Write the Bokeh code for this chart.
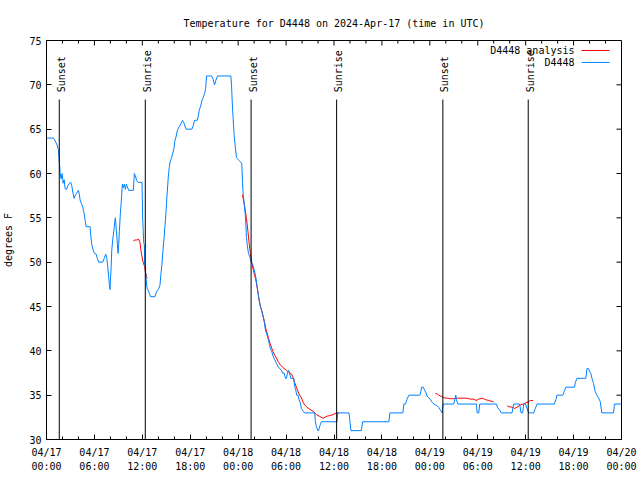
import math
from bokeh.plotting import figure
from bokeh.models import FixedTicker, LinearAxis, Label, Range1d
from bokeh.core.properties import value
from bokeh.embed import file_html
from bokeh.resources import INLINE

# ---------------- data ----------------
title_text = "Temperature for D4448 on 2024-Apr-17 (time in UTC)"
y_label_text = "degrees F"

# hours since 2024-04-17 00:00 UTC
x_tick_hours = [0, 6, 12, 18, 24, 30, 36, 42, 48, 54, 60, 66, 72]
x_tick_dates = ["04/17", "04/17", "04/17", "04/17", "04/18", "04/18", "04/18", "04/18",
                "04/19", "04/19", "04/19", "04/19", "04/20"]
x_tick_times = ["00:00", "06:00", "12:00", "18:00", "00:00", "06:00", "12:00", "18:00",
                "00:00", "06:00", "12:00", "18:00", "00:00"]
y_ticks = [30, 35, 40, 45, 50, 55, 60, 65, 70, 75]

sun_names = ["Sunset", "Sunrise", "Sunset", "Sunrise", "Sunset", "Sunrise"]
sun_hours = [1.6, 12.37, 25.62, 36.33, 49.63, 60.32]

series_obs = "D4448"
obs_hours = [0.0, 0.875, 1.08, 1.375, 1.5, 1.58, 1.67, 1.71, 1.83, 1.96, 2.08, 2.21, 2.33, 2.5,
             2.67, 2.875, 3.04, 3.17, 3.29, 3.46, 3.625, 3.79, 4.0, 4.125, 4.21, 4.375, 4.54,
             4.67, 4.79, 4.875, 4.96, 5.46, 5.54, 5.67, 5.83, 6.0, 6.21, 6.375, 6.54, 7.04,
             7.21, 7.42, 7.54, 7.67, 7.79, 7.875, 7.96, 8.0, 8.08, 8.17, 8.29, 8.42, 8.54,
             8.625, 8.75, 8.875, 8.96, 9.04, 9.125, 9.25, 9.375, 9.5, 9.625, 9.75, 9.875,
             10.0, 10.125, 10.29, 10.875, 11.0, 11.17, 11.29, 11.5, 11.96, 12.04, 12.17,
             12.25, 12.29, 12.375, 12.46, 12.58, 12.75, 12.875, 13.04, 13.58, 13.71, 13.875,
             14.04, 14.21, 14.33, 14.46, 14.58, 14.71, 14.83, 14.96, 15.08, 15.25, 15.375,
             15.5, 15.67, 15.79, 15.96, 16.08, 16.21, 16.375, 16.5, 16.71, 16.92, 17.04,
             17.21, 17.46, 18.21, 18.375, 18.54, 18.875, 19.0, 19.125, 19.29, 19.46, 19.625,
             19.79, 19.92, 20.04, 20.67, 20.875, 21.04, 21.21, 21.42, 23.08, 23.17, 23.25,
             23.375, 23.5, 23.625, 23.79, 24.0, 24.125, 24.29, 24.46, 24.54, 24.625, 24.75,
             24.875, 24.96, 25.04, 25.17, 25.29, 25.46, 25.625, 25.79, 25.96, 26.125, 26.25,
             26.375, 26.5, 26.625, 26.79, 26.92, 27.04, 27.17, 27.29, 27.42, 27.54, 27.67,
             27.79, 27.92, 28.04, 28.21, 28.375, 28.58, 28.79, 29.0, 29.42, 29.54, 29.75,
             29.92, 30.04, 30.17, 30.33, 30.46, 30.58, 30.96, 31.08, 31.21, 31.33, 31.5,
             31.625, 31.79, 31.92, 32.125, 32.33, 33.58, 33.67, 33.79, 33.96, 34.08, 34.21,
             34.42, 36.375, 36.46, 37.875, 38.0, 38.125, 39.42, 39.58, 42.875, 43.0, 44.625,
             44.75, 44.96, 45.125, 45.375, 46.75, 46.875, 46.96, 47.17, 47.33, 47.5, 47.67,
             47.875, 48.08, 48.29, 48.5, 48.71, 48.92, 49.125, 49.33, 49.54, 49.67, 51.0,
             51.125, 51.25, 51.33, 51.5, 53.83, 53.92, 54.125, 54.25, 56.33, 56.5, 56.75,
             56.96, 58.29, 58.5, 59.25, 59.42, 59.625, 59.75, 59.96, 60.17, 60.375, 61.0,
             61.21, 61.42, 63.58, 63.79, 63.92, 64.67, 64.83, 65.04, 66.125, 66.21, 66.42,
             67.54, 67.67, 67.875, 68.0, 68.17, 68.33, 68.5, 68.71, 68.92, 69.125, 69.33,
             69.54, 71.0, 71.125, 72.0]
obs_temps = [64.0, 64.0, 63.7, 63.1, 62.6, 61.5, 60.7, 60.0, 59.4, 60.0, 58.9, 59.3, 58.3, 58.2,
             58.6, 58.9, 59.0, 58.6, 57.9, 57.2, 57.6, 57.8, 58.1, 57.6, 57.0, 56.6, 56.2,
             55.7, 55.0, 54.5, 54.0, 54.0, 53.0, 52.0, 51.4, 51.0, 50.9, 50.4, 50.0, 50.0,
             50.4, 50.9, 50.5, 49.5, 48.3, 47.4, 46.9, 48.0, 49.1, 51.3, 52.5, 53.4, 54.5,
             55.0, 53.6, 52.1, 51.0, 52.0, 53.5, 55.5, 57.0, 58.8, 58.4, 58.8, 58.2,
             58.8, 58.5, 58.1, 58.1, 60.0, 59.6, 59.2, 59.0, 59.0, 55.1, 52.2,
             52.0, 49.7, 49.5, 48.3, 47.1, 46.8, 46.5, 46.1, 46.1, 46.5, 46.8,
             47.0, 47.4, 48.7, 49.8, 51.3, 52.6, 54.0, 55.6, 57.4, 59.6, 60.7,
             61.4, 61.8, 62.2, 62.8, 63.7, 64.1, 64.8, 65.1, 65.4, 65.8, 66.0,
             65.7, 65.0, 65.0, 65.4, 66.0, 66.0, 66.5, 67.1, 67.6, 68.2, 68.6,
             69.0, 69.5, 71.0, 71.0, 70.6, 70.0, 70.5, 71.0, 71.0, 70.0, 68.2,
             66.1, 64.3, 63.1, 61.8, 61.6, 61.45, 61.3, 61.1, 59.0, 57.7, 56.6,
             55.5, 54.3, 52.8, 51.7, 51.0, 50.6, 50.0, 49.8, 49.3, 48.7, 48.1,
             47.2, 46.5, 45.7, 45.0, 44.6, 44.2, 43.7, 43.1, 42.3, 42.0, 41.6,
             41.2, 40.7, 40.3, 39.9, 39.4, 39.0, 38.6, 38.2, 37.8, 37.5, 37.5,
             36.9, 36.9, 37.5, 37.8, 37.4, 36.9, 36.9, 36.0, 35.6, 35.0, 35.0,
             34.5, 34.1, 33.5, 33.2, 33.0, 33.0, 32.0, 31.5, 31.0, 31.0, 31.5,
             32.0, 32.0, 33.0, 33.0, 32.0, 31.0, 31.0, 32.0, 32.0, 33.0, 33.0,
             34.0, 34.0, 34.5, 35.0, 35.0, 35.4, 35.9, 35.9, 35.6, 35.3, 34.9,
             34.7, 34.5, 34.2, 34.0, 33.9, 33.8, 33.6, 33.3, 33.0, 34.0, 34.0,
             34.5, 35.0, 34.5, 34.0, 34.0, 33.0, 33.0, 34.0, 34.0, 33.6, 33.3,
             33.0, 33.0, 34.0, 34.0, 33.0, 33.0, 34.0, 34.0, 33.5, 33.0, 33.0,
             33.5, 34.0, 34.0, 34.5, 35.0, 35.0, 35.4, 35.9, 35.9, 36.4, 36.9,
             36.9, 38.0, 38.0, 37.7, 37.4, 36.8, 36.3, 35.4, 35.0, 34.7, 34.3,
             33.0, 33.0, 34.0, 34.0]

series_ana = "D4448 analysis"
nan = float("nan")
ana_hours = [10.875, 11.08, 11.29, 11.54, 11.71, 11.79, 11.92, 12.04, 12.17, 12.29, 12.375, 12.54, 12.67,
             nan,
             24.54, 24.83, 25.04, 25.21, 25.375, 25.54, 25.71, 25.875, 26.04, 26.21, 26.375, 26.5,
             26.625, 26.79, 26.96, 27.125, 27.29, 27.46, 27.625, 27.79, 27.96, 28.17, 28.375,
             28.58, 28.79, 29.0, 29.21, 29.42, 29.625, 30.04, 30.46, 30.67, 30.875, 31.08, 31.29,
             31.5, 31.71, 31.92, 32.125, 32.33, 32.54, 32.96, 33.375, 33.79, 34.21, 34.625,
             35.04, 35.46, 35.875, 36.29, 36.58,
             nan,
             48.71, 48.92, 49.125, 49.33, 49.54, 49.75, 50.17, 50.58, 51.0, 51.42, 52.67, 53.08,
             53.5, 53.79, 54.125, 54.54, 54.96, 55.375, 55.79, 56.0,
             nan,
             57.67, 57.875, 58.29, 58.625, 58.92, 59.33, 59.75, 60.17, 60.375, 60.58, 60.92]
ana_temps = [52.4, 52.5, 52.5, 52.6, 52.2, 51.5, 50.8, 50.2, 49.8, 49.5, 48.9, 48.3, 48.2,
             nan,
             57.6, 56.2, 54.9, 53.6, 52.15, 51.0, 49.9, 49.2, 48.6, 48.0, 47.2, 46.5,
             45.7, 45.0, 44.5, 43.9, 43.3, 42.5, 42.0, 41.5, 40.9, 40.4, 39.9,
             39.5, 39.2, 38.8, 38.5, 38.3, 38.1, 37.8, 37.5, 37.4, 37.0, 36.4, 35.9,
             35.4, 35.0, 34.7, 34.2, 33.9, 33.7, 33.4, 33.2, 32.8, 32.6, 32.4,
             32.6, 32.7, 32.8, 33.0, 33.0,
             nan,
             35.2, 35.15, 35.0, 34.9, 34.85, 34.7, 34.66, 34.6, 34.6, 34.66, 34.66, 34.55,
             34.55, 34.4, 34.55, 34.66, 34.5, 34.4, 34.3, 34.25,
             nan,
             33.8, 33.7, 33.65, 33.5, 33.65, 33.9, 34.0, 34.2, 34.25, 34.4, 34.4]

# ---------------- layout ----------------
FONT = "DejaVu Sans Mono"
FS = "10px"
W, H = 638, 474
ML, MR, MT, MB = 46, 17, 40, 34
X0, X1 = x_tick_hours[0], x_tick_hours[-1]
Y0, Y1 = y_ticks[0], y_ticks[-1]
FW, FH = W - ML - MR, H - MT - MB
px_x = FW / (X1 - X0)
px_y = FH / (Y1 - Y0)

def dx_from_right(px):
    return X1 - px / px_x

def dy_from_top(px):
    return Y1 - px / px_y

BLUE = "#0080ff"
RED = "#ff0000"

p = figure(width=W, height=H, output_backend="svg", toolbar_location=None, title=title_text,
           x_range=Range1d(X0, X1), y_range=Range1d(Y0, Y1),
           min_border_left=ML, min_border_right=MR, min_border_top=MT, min_border_bottom=MB)
p.background_fill_color = "white"
p.border_fill_color = "white"
p.outline_line_color = "black"
p.xgrid.visible = False
p.ygrid.visible = False

p.title.align = "center"
p.title.text_font = FONT
p.title.text_font_size = FS
p.title.text_font_style = "normal"
p.title.text_color = "black"
p.title.standoff = 24

minor_x = [h for h in range(X0, X1 + 1, 2) if h % 6]

def style_axis(ax):
    ax.axis_line_color = "black"
    ax.major_tick_line_color = "black"
    ax.minor_tick_line_color = "black"
    ax.major_tick_in = 5
    ax.major_tick_out = 0
    ax.minor_tick_in = 3
    ax.minor_tick_out = 0
    ax.major_label_text_font = FONT
    ax.major_label_text_font_size = FS
    ax.major_label_text_color = "black"

xa = p.xaxis[0]
xa.ticker = FixedTicker(ticks=x_tick_hours, minor_ticks=minor_x)
xa.major_label_overrides = dict(zip(x_tick_hours, x_tick_dates))
style_axis(xa)
xa.major_label_standoff = 7

# second row of x tick labels (times)
xb = LinearAxis(ticker=FixedTicker(ticks=x_tick_hours, minor_ticks=[]))
xb.major_label_overrides = dict(zip(x_tick_hours, x_tick_times))
style_axis(xb)
xb.axis_line_color = None
xb.major_tick_line_color = None
xb.minor_tick_line_color = None
xb.major_tick_in = 0
xb.minor_tick_in = 0
xb.major_label_standoff = 0
p.add_layout(xb, "below")

ya = p.yaxis[0]
ya.ticker = FixedTicker(ticks=y_ticks, minor_ticks=[])
style_axis(ya)
ya.major_label_standoff = 5
ya.axis_label = y_label_text
ya.axis_label_text_font = FONT
ya.axis_label_text_font_size = FS
ya.axis_label_text_font_style = "normal"
ya.axis_label_text_color = "black"
ya.axis_label_standoff = 12

# mirrored ticks on top and right edges
p.ray(x=x_tick_hours, y=[Y1] * len(x_tick_hours), length=5, length_units="screen",
      angle=-math.pi / 2, line_color="black", line_width=1)
p.ray(x=minor_x, y=[Y1] * len(minor_x), length=3, length_units="screen",
      angle=-math.pi / 2, line_color="black", line_width=1)
p.ray(x=[X1] * len(y_ticks), y=y_ticks, length=5, length_units="screen",
      angle=math.pi, line_color="black", line_width=1)

# data lines
p.line(ana_hours, ana_temps, line_color=RED, line_width=1)
p.line(obs_hours, obs_temps, line_color=BLUE, line_width=1)

# sunrise / sunset markers
line_top = Y0 + 0.852 * (Y1 - Y0)
label_y = Y0 + 0.87 * (Y1 - Y0)
p.segment(x0=sun_hours, y0=[Y0] * len(sun_hours), x1=sun_hours, y1=[line_top] * len(sun_hours),
          line_color="black", line_width=1)
p.text(x=sun_hours, y=[label_y] * len(sun_hours), text=sun_names, angle=math.pi / 2,
       text_align="left", text_baseline="middle", x_offset=2,
       text_font=value(FONT), text_font_size=FS, text_color="black")

# legend (gnuplot style: label then sample)
legend_rows = [(series_ana, RED, 10), (series_obs, BLUE, 22)]
for name, col, off in legend_rows:
    yy = dy_from_top(off)
    p.add_layout(Label(x=dx_from_right(47), y=yy, text=name, text_align="right",
                       text_baseline="middle", text_font=FONT, text_font_size=FS,
                       text_color="black"))
    p.segment(x0=[dx_from_right(40)], y0=[yy], x1=[dx_from_right(12)], y1=[yy],
              line_color=col, line_width=1)

open("out.html", "w").write(file_html(p, INLINE))
